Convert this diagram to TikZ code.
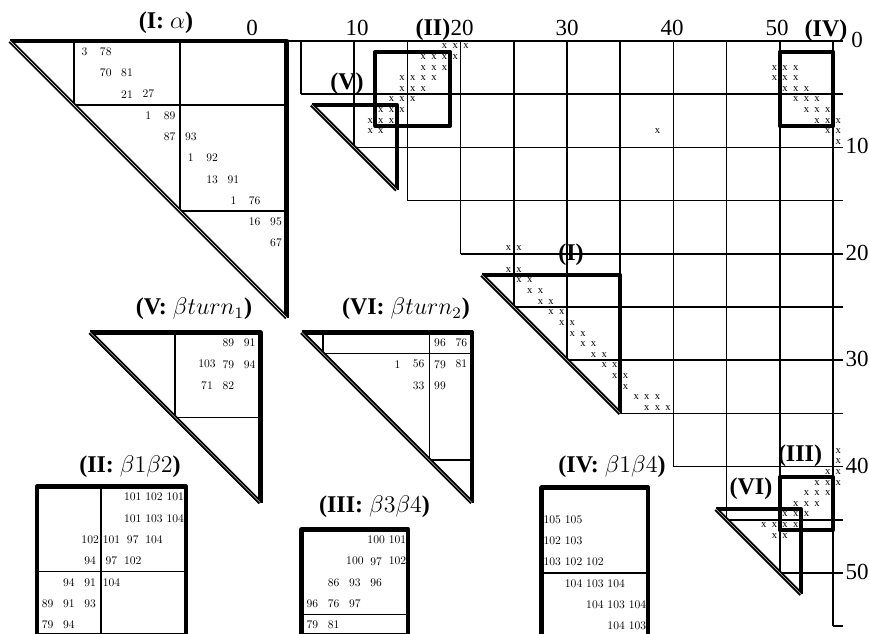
\documentclass[tikz,border=0pt]{standalone}
\usepackage{fontspec}
\newfontfamily\tmsfont{Liberation Serif}
\newfontfamily\cellfont{lmroman10-regular.otf}
\newcommand\stairgrid{%
  \foreach \k in {0,5,...,55}{\draw[gline] (\k,\k) -- (55.95,\k);}%
  \foreach \k in {5,10,...,55}{\draw[gline] (\k,0) -- (\k,\k);}%
}

\begin{document}
\begin{tikzpicture}[x=0.5pt, y=-0.5pt,
    gline/.style={line width=0.75pt},
    boxline/.style={line width=2pt, line join=round},
    bigline/.style={line width=2.3pt, line join=round},
    diag/.style={double, line width=0.95pt, double distance=0.2pt},
    hit/.style={font=\tmsfont\fontsize{5.3}{5.3}\selectfont, inner sep=0pt},
    cellnum/.style={font=\cellfont\fontsize{5.8}{5.8}\selectfont, inner sep=0pt},
    axlbl/.style={font=\tmsfont\fontsize{11.5}{12}\selectfont, inner sep=0pt},
    lbl/.style={font=\tmsfont\bfseries\fontsize{12}{12}\selectfont, inner sep=0pt}
]
\useasboundingbox (0,0) rectangle (869,633);
\clip (0,0) rectangle (869,633);

\begin{scope}[shift={(247.8,41)}, x=5.32pt, y=-5.32pt]
  \stairgrid
  \foreach \row/\cols in {0/{18,19,20},1/{16,17,18,19},2/{16,17,18,49,50,51},
      3/{14,15,16,17,49,50,51},4/{14,15,16,50,51,52},5/{13,14,15,51,52,53},
      6/{12,13,14,52,53,54},7/{11,12,13,53,54,55},8/{11,12,38,54,55},9/{55},
      19/{24,25},21/{24,25},22/{25,26},23/{26,27},24/{27,28},25/{28,29},
      26/{29,30},27/{30,31},28/{31,32},29/{32,33},30/{33,34},31/{34,35},
      32/{35},33/{36,37,38},34/{37,38,39},38/{55},39/{55},40/{54,55},
      41/{53,54,55},42/{52,53,54},43/{51,52,53},44/{50,51,52},
      45/{48,49,50,51},46/{49,50}}
    \foreach \col in \cols
      \node[hit] (h\row-\col) at (\col+0.5,\row+0.5) {x};
  \draw[boxline] (12,1) rectangle (19,8);
  \draw[boxline] (50,1) rectangle (55,8);
  \draw[boxline] (50,41) rectangle (55,46);
  \draw[boxline] (6,6) -- (14,6) -- (14,14);
  \draw[diag] (6,6) -- (14,14);
  \draw[boxline] (22,22) -- (35,22) -- (35,35);
  \draw[diag] (22,22) -- (35,35);
  \draw[boxline] (44,44) -- (52,44) -- (52,52);
  \draw[diag] (44,44) -- (52,52);
\end{scope}

\begin{scope}[shift={(10,41)}, x=10.64pt, y=-10.64pt, shift={(-22,-22)}]
  \begin{scope}
    \clip (22,22) -- (35,22) -- (35,35) -- cycle;
    \stairgrid
  \end{scope}
  \draw[bigline] (22,22) -- (35,22) -- (35,35);
  \draw[diag] (22,22) -- (35,35);
  \foreach \row/\col/\v in {22/25/3,22/26/78,23/26/70,23/27/81,24/27/21,24/28/27,
      25/28/1,25/29/89,26/29/87,26/30/93,27/30/1,27/31/92,28/31/13,28/32/91,
      29/32/1,29/33/76,30/33/16,30/34/95,31/34/67}
    \node[cellnum] (a\row-\col) at (\col+0.5,\row+0.5) {\v};
\end{scope}

\begin{scope}[shift={(90,332.3)}, x=10.64pt, y=-10.64pt, shift={(-6,-6)}]
  \begin{scope}
    \clip (6,6) -- (14,6) -- (14,14) -- cycle;
    \stairgrid
  \end{scope}
  \draw[bigline] (6,6) -- (14,6) -- (14,14);
  \draw[diag] (6,6) -- (14,14);
  \foreach \row/\col/\v in {6/12/89,6/13/91,7/11/103,7/12/79,7/13/94,8/11/71,8/12/82}
    \node[cellnum] (v\row-\col) at (\col+0.5,\row+0.5) {\v};
\end{scope}

\begin{scope}[shift={(301.7,332.3)}, x=10.64pt, y=-10.64pt, shift={(-44,-44)}]
  \begin{scope}
    \clip (44,44) -- (52,44) -- (52,52) -- cycle;
    \stairgrid
  \end{scope}
  \draw[bigline] (44,44) -- (52,44) -- (52,52);
  \draw[diag] (44,44) -- (52,52);
  \foreach \row/\col/\v in {44/50/96,44/51/76,45/48/1,45/49/56,45/50/79,45/51/81,
      46/49/33,46/50/99}
    \node[cellnum] (w\row-\col) at (\col+0.5,\row+0.5) {\v};
\end{scope}

\begin{scope}[shift={(37,486.5)}, x=10.64pt, y=-10.64pt, shift={(-12,-1)}]
  \begin{scope}
    \clip (12,1) rectangle (19,8);
    \stairgrid
  \end{scope}
  \draw[bigline] (12,1) rectangle (19,8);
  \foreach \row/\col/\v in {1/16/101,1/17/102,1/18/101,2/16/101,2/17/103,2/18/104,
      3/14/102,3/15/101,3/16/97,3/17/104,4/14/94,4/15/97,4/16/102,
      5/13/94,5/14/91,5/15/104,6/12/89,6/13/91,6/14/93,7/12/79,7/13/94}
    \node[cellnum] (b\row-\col) at (\col+0.5,\row+0.5) {\v};
\end{scope}

\begin{scope}[shift={(301.7,529.3)}, x=10.64pt, y=-10.64pt, shift={(-50,-41)}]
  \begin{scope}
    \clip (50,41) rectangle (55,46);
    \stairgrid
  \end{scope}
  \draw[bigline] (50,41) rectangle (55,46);
  \foreach \row/\col/\v in {41/53/100,41/54/101,42/52/100,42/53/97,42/54/102,
      43/51/86,43/52/93,43/53/96,44/50/96,44/51/76,44/52/97,45/50/79,45/51/81}
    \node[cellnum] (c\row-\col) at (\col+0.5,\row+0.5) {\v};
\end{scope}

\begin{scope}[shift={(541.7,487.7)}, x=10.64pt, y=-10.64pt, shift={(-50,-1)}]
  \begin{scope}
    \clip (50,1) rectangle (55,8);
    \stairgrid
  \end{scope}
  \draw[bigline] (50,1) rectangle (55,8);
  \foreach \row/\col/\v in {2/50/105,2/51/105,3/50/102,3/51/103,4/50/103,4/51/102,
      4/52/102,5/51/104,5/52/103,5/53/104,6/52/104,6/53/103,6/54/104,
      7/53/104,7/54/103}
    \node[cellnum] (d\row-\col) at (\col+0.5,\row+0.5) {\v};
\end{scope}

\foreach \t in {0,10,...,50}
  \node[axlbl] (top\t) at (252+10.5*\t,28.3) {\t};
\foreach \t in {0,10,...,50}
  \node[axlbl] (side\t) at (857,39.5+10.65*\t) {\t};

\node[lbl] (tII) at (433,30) {(II)};
\node[lbl] (tV) at (347,84) {(V)};
\node[lbl] (tIV) at (826,31) {(IV)};
\node[lbl] (tI) at (571,255) {(I)};
\node[lbl] (tIII) at (800,456) {(III)};
\node[lbl] (tVI) at (751,489) {(VI)};

\node[lbl] (capI) at (166,23) {(I: $\alpha$)};
\node[lbl] (capV) at (194,309) {(V: $\beta turn_1$)};
\node[lbl] (capVI) at (406,309) {(VI: $\beta turn_2$)};
\node[lbl] (capII) at (130,467) {(II: $\beta 1\beta 2$)};
\node[lbl] (capIII) at (374.5,507) {(III: $\beta 3\beta 4$)};
\node[lbl] (capIV) at (612,467) {(IV: $\beta 1\beta 4$)};
\end{tikzpicture}
\end{document}
